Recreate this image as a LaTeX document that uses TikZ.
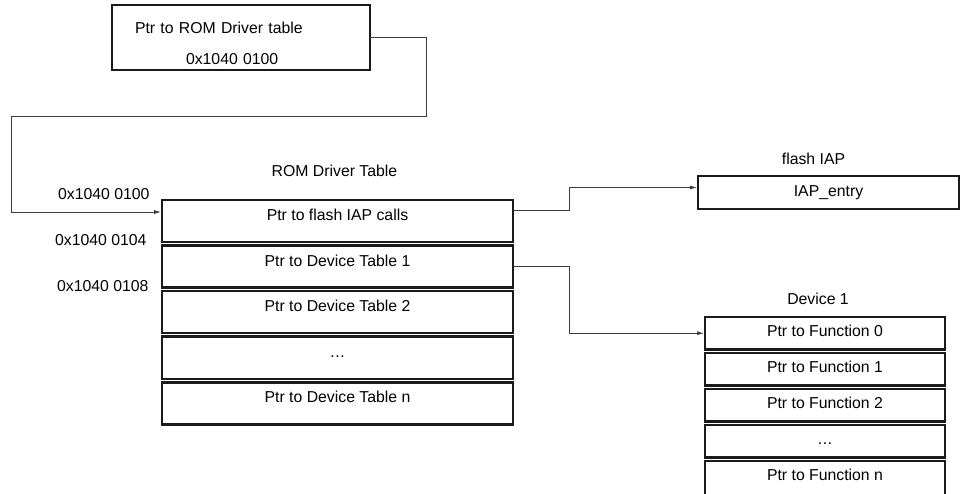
\documentclass[tikz,border=0pt]{standalone}
\usepackage{fontspec}
\setmainfont{Liberation Sans}
\usetikzlibrary{positioning,arrows.meta}
\definecolor{ROMLine}{HTML}{1A1A1A}
\definecolor{ROMLink}{HTML}{3C3C3C}

\tikzset{
  tbl/.style={draw=ROMLine,line width=2.6pt,outer sep=0pt,inner sep=0pt,anchor=north west},
  romrow/.style={tbl,minimum width=351,minimum height=42,text height=12pt,text depth=13pt},
  fnrow/.style={tbl,minimum width=240,minimum height=32.5,text height=12pt,text depth=6.5pt},
  addr/.style={anchor=base east},
  caption/.style={anchor=base},
  link/.style={draw=ROMLink,line width=.8pt},
  ptr/.style={link,-{Latex[length=7pt,width=4pt]},shorten >=1pt},
}

\begin{document}
\begin{tikzpicture}[x=1pt,y=1pt,font=\fontsize{15.8}{19}\selectfont]
\path[use as bounding box] (0,0) rectangle (961,493);
\clip (0,0) rectangle (961,493);
% pointer box
\node[tbl,minimum width=258,minimum height=65,align=left,text width=258,
  text height=12pt,text depth=19pt] (romptr) at (112,488)
  {\hspace*{23pt}Ptr to ROM Driver table\\[12pt]\hspace*{74pt}0x1040 0100};
% ROM driver table
\node[romrow] (rom1) at (162,293) {Ptr to flash IAP calls};
\node[romrow,below=3.6pt of rom1] (rom2) {Ptr to Device Table 1};
\node[romrow,below=3.6pt of rom2] (rom3) {Ptr to Device Table 2};
\node[romrow,below=3.6pt of rom3] (rom4) {\dots};
\node[romrow,below=3.6pt of rom4] (rom5) {Ptr to Device Table n};
\node[caption] (romcap) at ([xshift=-3pt,yshift=23pt]rom1.north) {ROM Driver Table};
\node[addr] (addr0) at ([xshift=-9pt]rom1.north west) {0x1040 0100};
\node[addr] (addr4) at ([xshift=-12pt]rom2.north west) {0x1040 0104};
\node[addr] (addr8) at ([xshift=-10pt]rom3.north west) {0x1040 0108};
% flash IAP
\node[tbl,minimum width=261,minimum height=33] (iap) at (698,317) {IAP\_entry};
\node[caption] (iapcap) at ([xshift=-15pt,yshift=11pt]iap.north) {flash IAP};
% device 1
\node[fnrow] (fn0) at (705,176) {Ptr to Function 0};
\node[fnrow,below=3.5pt of fn0] (fn1) {Ptr to Function 1};
\node[fnrow,below=3.5pt of fn1] (fn2) {Ptr to Function 2};
\node[fnrow,below=3.5pt of fn2] (fn3) {\dots};
\node[fnrow,below=3.5pt of fn3,minimum height=38,text depth=12pt] (fn4) {Ptr to Function n};
\node[caption] (devcap) at ([xshift=-7pt,yshift=12pt]fn0.north) {Device 1};
% connectors
\coordinate (turn) at (426,377);
\coordinate (back) at (11,377);
\draw[ptr] (romptr.east) -| (turn) -- (back) |- ([yshift=9pt]rom1.west);
\draw[ptr] ([yshift=10.5pt]rom1.east) -- ++(56,0) |- ([yshift=5pt]iap.west);
\draw[ptr] (rom2.east) -- ++(56,0) |- (fn0.west);
\end{tikzpicture}
\end{document}
